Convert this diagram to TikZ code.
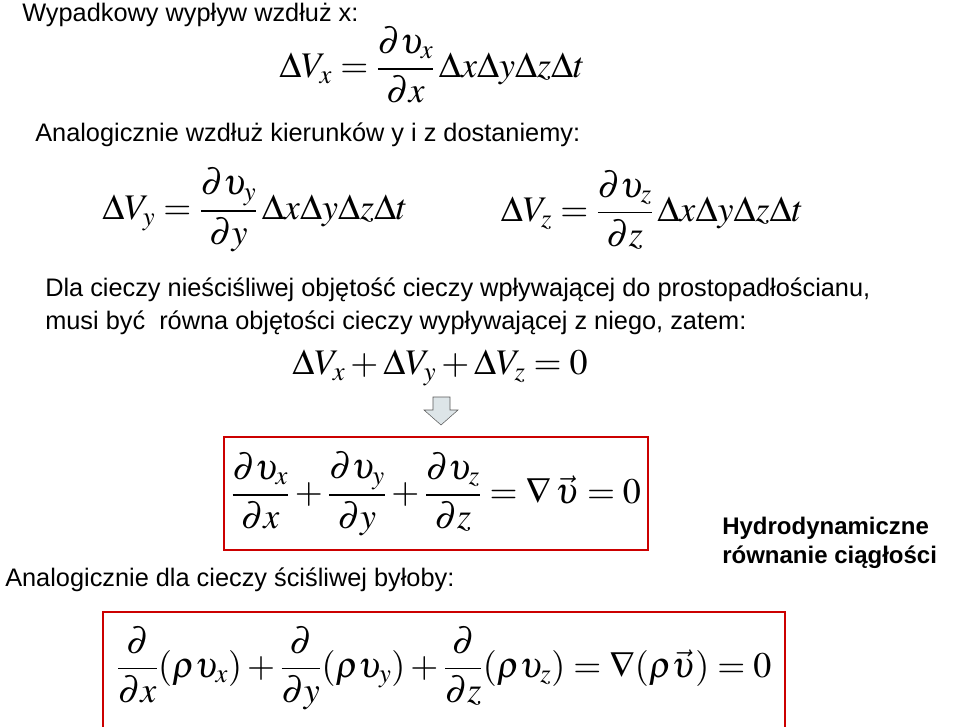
\documentclass[tikz,border=0pt]{standalone}
\usepackage{amsmath}
\usepackage{mathptmx}
\usepackage{fontspec}
\setmainfont{Liberation Sans}
\usetikzlibrary{positioning}
\newcommand{\DD}{\Delta x\Delta y\Delta z\Delta t}
\newcommand{\Frac}[2]{\dfrac{\partial #1}{\partial #2}}
\tikzset{
    txt/.style={anchor=west, inner sep=0pt, font=\fontsize{19}{22}\selectfont},
    eq/.style={inner sep=0pt, font=\fontsize{27}{31}\selectfont},
    redbox/.style={draw=red!80!black, line width=0.9pt},
}
\begin{document}
\begin{tikzpicture}[x=0.75pt, y=-0.75pt]
    \path[use as bounding box] (0,0) rectangle (959,727);

    \node[txt] (t1) at (22,15) {Wypadkowy wypływ wzdłuż x:};
    \node[eq] (ex) at (432,65) {$\Delta V_x = \Frac{\upsilon_x}{x}\,\DD$};
    \node[txt] (t2) at (35,135) {Analogicznie wzdłuż kierunków y i z dostaniemy:};
    \node[eq] (ey) at (255,210) {$\Delta V_y = \Frac{\upsilon_y}{y}\,\DD$};
    \node[eq] (ez) at (652,210) {$\Delta V_z = \Frac{\upsilon_z}{z}\,\DD$};
    \node[txt] (t3) at (45,290) {Dla cieczy nieściśliwej objętość cieczy wpływającej do prostopadłościanu,};
    \node[txt] (t4) at (45,323) {musi być\ \ równa objętości cieczy wypływającej z niego, zatem:};
    \node[eq] (esum) at (440,368) {$\Delta V_x + \Delta V_y + \Delta V_z = 0$};

    % arrow down
    \draw[gray!70!black, fill=cyan!20!gray!25]
        (433,397) -- (450,397) -- (450,410) -- (458,410) -- (441,425)
        -- (424,410) -- (433,410) -- cycle;

    \node[eq] (ediv) at (436,494) {$\Frac{\upsilon_x}{x} + \Frac{\upsilon_y}{y} + \Frac{\upsilon_z}{z} = \nabla\,\vec{\upsilon} = 0$};
    \draw[redbox] (224,437) rectangle (648,550);

    \node[txt, font=\fontsize{18}{21}\selectfont\bfseries] (h1) at (722,528) {Hydrodynamiczne};
    \node[txt, font=\fontsize{18}{21}\selectfont\bfseries] (h2) at (722,557) {równanie ciągłości};

    \node[txt] (t5) at (5,580) {Analogicznie dla cieczy ściśliwej byłoby:};
    \node[eq] (erho) at (444,668) {$\dfrac{\partial}{\partial x}(\rho\upsilon_x) + \dfrac{\partial}{\partial y}(\rho\upsilon_y) + \dfrac{\partial}{\partial z}(\rho\upsilon_z) = \nabla(\rho\vec{\upsilon}) = 0$};
    \draw[redbox] (103,612) rectangle (785,740);
\end{tikzpicture}
\end{document}
